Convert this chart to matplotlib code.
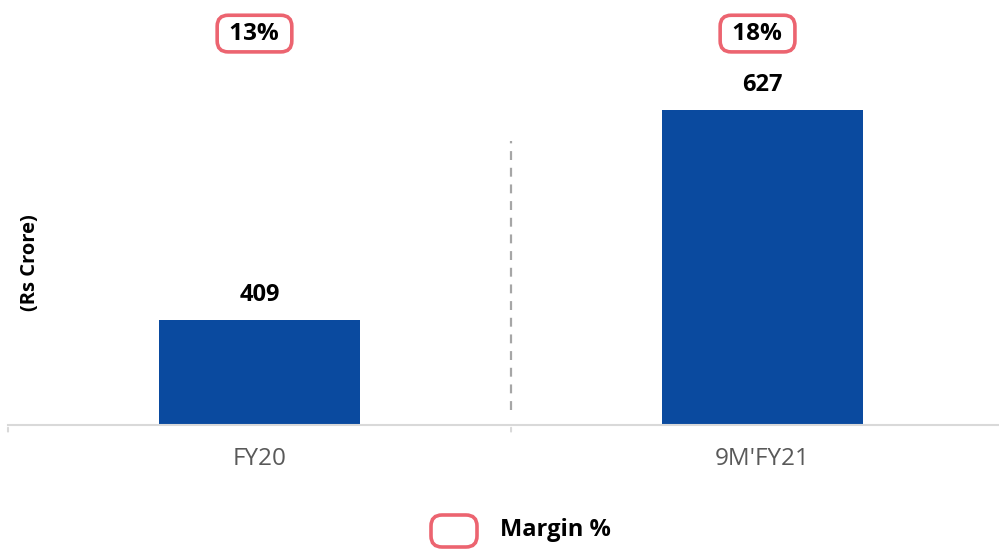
import matplotlib

matplotlib.use("Agg")

import matplotlib.pyplot as plt
from matplotlib.patches import FancyBboxPatch
from matplotlib.transforms import IdentityTransform

categories = ["FY20", "9M'FY21"]
ebitda = [409, 627]
margins = ["13%", "18%"]

BAR_COLOR = "#0A4A9F"
MARGIN_EDGE = "#EC6470"
AXIS_GREY = "#D9D9D9"

plt.rcParams["font.family"] = ["Open Sans", "DejaVu Sans"]

fig = plt.figure(figsize=(9.99, 5.49), dpi=100)
ax = fig.add_axes([8 / 999, 124 / 549, 991 / 999, 425 / 549])

x = list(range(len(categories)))
ax.bar(x, ebitda, width=0.4, color=BAR_COLOR, zorder=2)
ax.set_xlim(-0.5, 1.47)
ax.set_ylim(300, 741)

for xi, val in zip(x, ebitda):
    ax.text(xi, val + 13, f"{val}", ha="center", va="bottom",
            fontsize=17, fontweight="bold", color="black")

for xi, m in zip(x, margins):
    ax.annotate(f" {m} ", xy=(xi - 0.01, 0.921), xycoords=("data", "axes fraction"),
                ha="center", va="center", fontsize=17.5, fontweight="bold",
                bbox=dict(boxstyle="round,pad=0.26,rounding_size=0.45",
                          facecolor="white", edgecolor=MARGIN_EDGE, linewidth=2.6))

# dashed separator between the two periods
ax.plot([0.5, 0.5], [316, 595], linestyle=(0, (4, 3.5)), color="#A6A6A6",
        linewidth=1.6, zorder=1)

for side in ["top", "right", "left"]:
    ax.spines[side].set_visible(False)
ax.spines["bottom"].set_color(AXIS_GREY)
ax.spines["bottom"].set_linewidth(1.5)
ax.set_yticks([])
ax.set_xticks(x)
ax.set_xticklabels(categories, fontsize=17.5, color="#595959")
ax.tick_params(axis="x", length=0, pad=16)
for xt in [-0.5, 0.5]:
    ax.annotate("", xy=(xt, 0), xycoords=("data", "axes fraction"),
                xytext=(xt, -0.022), textcoords=("data", "axes fraction"),
                arrowprops=dict(arrowstyle="-", color=AXIS_GREY, lw=1.5),
                annotation_clip=False)

fig.text(30 / 999, 1 - 263 / 549, "(Rs Crore)", rotation=90, ha="center",
         va="center", fontsize=14.5, fontweight="bold")

# legend entry for the margin boxes
fig.patches.append(FancyBboxPatch((431, 549 - 547), 46, 32,
                                  boxstyle="round,pad=0,rounding_size=11",
                                  facecolor="white", edgecolor=MARGIN_EDGE,
                                  linewidth=2.6, transform=IdentityTransform(),
                                  figure=fig))
fig.text(500 / 999, 1 - 530 / 549, "Margin %", ha="left", va="center",
         fontsize=17, fontweight="bold")

fig.savefig("out.png", dpi=100)
